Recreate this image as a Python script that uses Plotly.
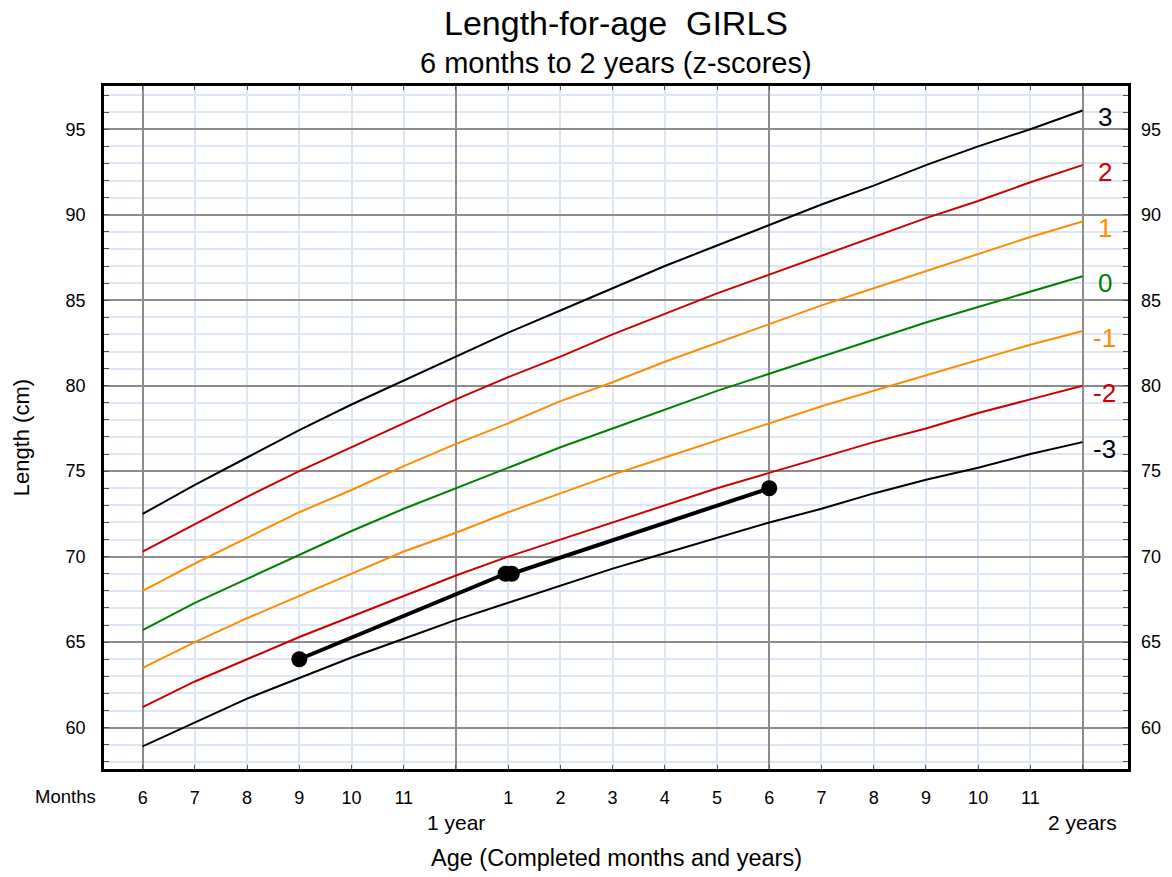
import plotly.graph_objects as go

# WHO length-for-age, girls, 6-24 months (cm)
months = list(range(6, 25))
sd3neg = [58.9, 60.3, 61.7, 62.9, 64.1, 65.2, 66.3, 67.3, 68.3, 69.3, 70.2, 71.1, 72.0, 72.8, 73.7, 74.5, 75.2, 76.0, 76.7]
sd2neg = [61.2, 62.7, 64.0, 65.3, 66.5, 67.7, 68.9, 70.0, 71.0, 72.0, 73.0, 74.0, 74.9, 75.8, 76.7, 77.5, 78.4, 79.2, 80.0]
sd1neg = [63.5, 65.0, 66.4, 67.7, 69.0, 70.3, 71.4, 72.6, 73.7, 74.8, 75.8, 76.8, 77.8, 78.8, 79.7, 80.6, 81.5, 82.4, 83.2]
median = [65.7, 67.3, 68.7, 70.1, 71.5, 72.8, 74.0, 75.2, 76.4, 77.5, 78.6, 79.7, 80.7, 81.7, 82.7, 83.7, 84.6, 85.5, 86.4]
sd1 = [68.0, 69.6, 71.1, 72.6, 73.9, 75.3, 76.6, 77.8, 79.1, 80.2, 81.4, 82.5, 83.6, 84.7, 85.7, 86.7, 87.7, 88.7, 89.6]
sd2 = [70.3, 71.9, 73.5, 75.0, 76.4, 77.8, 79.2, 80.5, 81.7, 83.0, 84.2, 85.4, 86.5, 87.6, 88.7, 89.8, 90.8, 91.9, 92.9]
sd3 = [72.5, 74.2, 75.8, 77.4, 78.9, 80.3, 81.7, 83.1, 84.4, 85.7, 87.0, 88.2, 89.4, 90.6, 91.7, 92.9, 94.0, 95.0, 96.1]

curve_labels = ["3", "2", "1", "0", "-1", "-2", "-3"]
curve_values = [sd3, sd2, sd1, median, sd1neg, sd2neg, sd3neg]
curve_colors = ["#000000", "#cc0000", "#ff8c00", "#008000", "#ff8c00", "#cc0000", "#000000"]

# child's measurements
child_age = [9, 12.95, 13.07, 18]
child_length = [64, 69, 69, 74]

# axis labels
month_ticks = list(range(6, 25))
month_text = ["6", "7", "8", "9", "10", "11", "", "1", "2", "3", "4", "5", "6", "7", "8", "9", "10", "11", ""]
year_ticks = [12, 24]
year_text = ["1 year", "2 years"]
length_ticks = [60, 65, 70, 75, 80, 85, 90, 95]

FONT = "Liberation Sans, Arial, sans-serif"
XR = [5.26, 24.87]
YR = [57.58, 97.53]

fig = go.Figure()
for lab, vals, col in zip(curve_labels, curve_values, curve_colors):
    fig.add_trace(go.Scatter(x=months, y=vals, mode="lines", line=dict(color=col, width=2),
                             hoverinfo="skip", showlegend=False))
    fig.add_annotation(x=24.42, y=vals[-1] - 0.4, text=lab, showarrow=False, xanchor="center", yanchor="middle",
                       font=dict(family=FONT, size=26, color=col))

fig.add_trace(go.Scatter(x=child_age, y=child_length, mode="lines+markers",
                         line=dict(color="black", width=4), marker=dict(color="black", size=16),
                         showlegend=False))

for xv, t in zip(year_ticks, year_text):
    fig.add_annotation(x=xv, y=0, yref="paper", yshift=-53, text=t, showarrow=False,
                       xanchor="center", yanchor="middle", font=dict(family=FONT, size=21, color="black"))

fig.add_annotation(x=-0.038, xref="paper", y=0, yref="paper", yshift=-27, text="Months", showarrow=False,
                   xanchor="center", yanchor="middle", font=dict(family=FONT, size=18.5, color="black"))
fig.add_annotation(x=0.5, xref="paper", y=0, yref="paper", yshift=-89, text="Age (Completed months and years)",
                   showarrow=False, xanchor="center", yanchor="middle", font=dict(family=FONT, size=23.5, color="black"))
fig.add_annotation(x=-0.0805, xref="paper", y=0.485, yref="paper", text="Length (cm)", textangle=-90,
                   showarrow=False, xanchor="center", yanchor="middle", font=dict(family=FONT, size=22, color="black"))
fig.add_annotation(x=0.5, xref="paper", y=1, yref="paper", yshift=63, text="Length-for-age  GIRLS",
                   showarrow=False, xanchor="center", yanchor="middle", font=dict(family=FONT, size=34, color="black"))
fig.add_annotation(x=0.5, xref="paper", y=1, yref="paper", yshift=23, text="6 months to 2 years (z-scores)",
                   showarrow=False, xanchor="center", yanchor="middle", font=dict(family=FONT, size=29, color="black"))

fig.update_layout(
    width=1172, height=877,
    margin=dict(l=104, r=44, t=86, b=108),
    paper_bgcolor="white", plot_bgcolor="white",
    font=dict(family=FONT, color="black"),
    xaxis=dict(range=XR, tickvals=[6, 12, 18, 24], showticklabels=False, ticks="",
               showgrid=True, gridcolor="#8c8c8c", gridwidth=2, zeroline=False,
               showline=True, linecolor="black", linewidth=2.5, mirror=True,
               minor=dict(dtick=1, tick0=6, showgrid=True, gridcolor="#dde6f5", gridwidth=2)),
    xaxis2=dict(range=XR, overlaying="x", side="bottom", anchor="y", tickvals=month_ticks, ticktext=month_text,
                showgrid=False, zeroline=False, ticks="inside", ticklen=4, tickcolor="#555555", mirror="ticks",
                showline=False, ticklabelstandoff=16, tickfont=dict(family=FONT, size=18, color="black")),
    yaxis=dict(range=YR, tickvals=length_ticks, showgrid=True, gridcolor="#8c8c8c", gridwidth=2, zeroline=False,
               showline=True, linecolor="black", linewidth=2.5, mirror="ticks", ticks="inside", ticklen=5,
               tickcolor="#555555", ticklabelstandoff=12, tickfont=dict(family=FONT, size=18, color="black"),
               minor=dict(dtick=1, tick0=60, showgrid=True, gridcolor="#dde6f5", gridwidth=2,
                          ticks="inside", ticklen=5, tickcolor="#555555")),
    yaxis2=dict(range=YR, overlaying="y", side="right", anchor="x", tickvals=length_ticks, showgrid=False,
                zeroline=False, ticks="", ticklabelstandoff=12, tickfont=dict(family=FONT, size=18, color="black")),
)
# invisible trace to activate secondary axes
fig.add_trace(go.Scatter(x=[child_age[0]], y=[child_length[0]], xaxis="x2", yaxis="y2", mode="markers",
                         marker=dict(opacity=0), hoverinfo="skip", showlegend=False))

fig.write_html("out.html", config={"displayModeBar": False},
               post_script="document.body.style.margin='0px';")
